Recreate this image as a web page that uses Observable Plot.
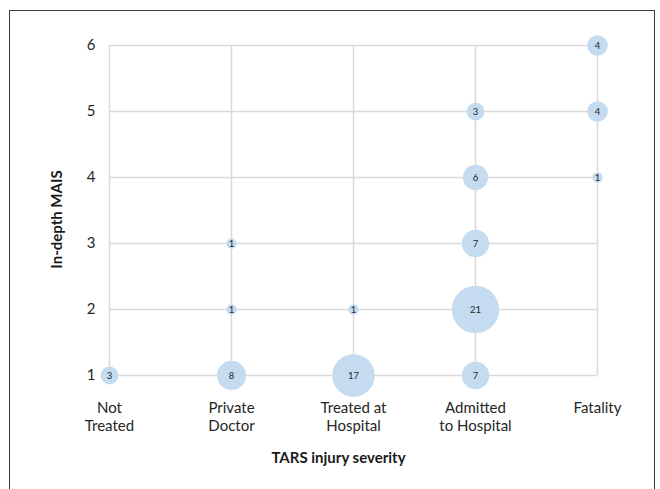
<!DOCTYPE html>
<html>
<head>
<meta charset="utf-8">
<script src="https://cdn.jsdelivr.net/npm/d3@7"></script>
<script src="https://cdn.jsdelivr.net/npm/@observablehq/plot@0.6"></script>
<style>
  html, body { margin: 0; padding: 0; background: #fff; overflow: hidden; }
  #wrap { position: relative; width: 660px; height: 489px; }
  #wrap svg { position: absolute; left: 0; top: 0; }
  #border { position: absolute; left: 9px; top: 10px; width: 646px; height: 520px;
            border: 1.5px solid #3a3a3a; box-sizing: border-box; pointer-events: none; }
</style>
</head>
<body>
<div id="wrap"><div id="border"></div></div>
<script>
const categories = ["Not Treated", "Private Doctor", "Treated at Hospital", "Admitted to Hospital", "Fatality"];
const categoryLabels = ["Not\nTreated", "Private\nDoctor", "Treated at\nHospital", "Admitted\nto Hospital", "Fatality"];
const yTicks = [1, 2, 3, 4, 5, 6];

const pointCategory = ["Not Treated", "Private Doctor", "Private Doctor", "Private Doctor",
  "Treated at Hospital", "Treated at Hospital",
  "Admitted to Hospital", "Admitted to Hospital", "Admitted to Hospital", "Admitted to Hospital", "Admitted to Hospital",
  "Fatality", "Fatality", "Fatality"];
const pointMAIS = [1, 1, 2, 3, 1, 2, 1, 2, 3, 4, 5, 4, 5, 6];
const pointCount = [3, 8, 1, 1, 17, 1, 7, 21, 7, 6, 3, 1, 4, 4];

const data = pointCategory.map((c, i) => ({cat: c, mais: pointMAIS[i], n: pointCount[i]}));
const labelOf = new Map(categories.map((c, i) => [c, categoryLabels[i]]));

const font = "Lato, 'Open Sans', sans-serif";

const chart = Plot.plot({
  width: 660,
  height: 489,
  marginLeft: 109,
  marginRight: 63,
  marginTop: 45,
  marginBottom: 114,
  style: {fontFamily: font, background: "transparent", color: "#262626"},
  x: {type: "point", domain: categories, padding: 0},
  y: {domain: [1, 6]},
  r: {domain: [0, 21], range: [0, 23.7]},
  marks: [
    Plot.ruleY(yTicks, {stroke: "#d9d9d9", strokeWidth: 1.5}),
    Plot.ruleX(categories, {stroke: "#d9d9d9", strokeWidth: 1.5}),
    Plot.axisY(yTicks, {tickSize: 0, tickPadding: 14, fontSize: 15, label: null,
      tickFormat: d => String(d), fill: "#262626"}),
    Plot.axisX(categories, {tickSize: 0, tickPadding: 25, fontSize: 15, label: null,
      tickFormat: d => labelOf.get(d), lineHeight: 1.2, fill: "#262626"}),
    Plot.dot(data, {x: "cat", y: "mais", r: "n", fill: "#c5dcf0", stroke: "none"}),
    Plot.text(data, {x: "cat", y: "mais", text: "n", fontSize: 9.5, fill: "#262626"}),
    Plot.text(["In-depth MAIS"], {frameAnchor: "left", textAnchor: "middle", rotate: -90, dx: -52, dy: 9,
      fontWeight: "bold", fontSize: 15, fill: "#1a1a1a"}),
    Plot.text(["TARS injury severity"], {frameAnchor: "bottom", dy: 87, dx: -15,
      fontWeight: "bold", fontSize: 15, fill: "#1a1a1a"})
  ]
});
document.getElementById("wrap").prepend(chart);
</script>
</body>
</html>
